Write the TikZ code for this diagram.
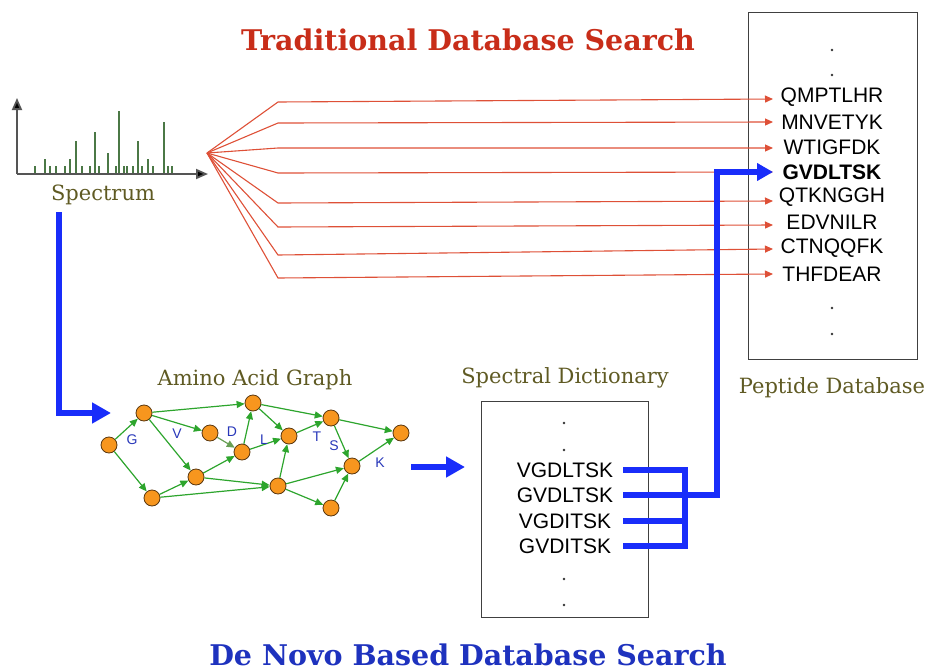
\documentclass[tikz,border=0pt]{standalone}
\usepackage{fontspec}
\setmainfont{DejaVu Serif}
\newfontfamily\sansf{Liberation Sans}
\usetikzlibrary{arrows.meta}
\definecolor{titlered}{RGB}{200,45,25}
\definecolor{linered}{RGB}{222,80,55}
\definecolor{bluearrow}{RGB}{25,45,250}
\definecolor{titleblue}{RGB}{30,50,190}
\definecolor{olive}{RGB}{95,90,35}
\definecolor{peak}{RGB}{75,120,70}
\definecolor{edgegreen}{RGB}{45,165,45}
\definecolor{nodeorange}{RGB}{247,150,30}
\definecolor{nodebrown}{RGB}{90,55,15}
\definecolor{lettblue}{RGB}{40,55,185}
\definecolor{axisgray}{RGB}{85,85,85}
\tikzset{
  title/.style={font=\fontsize{28.5}{28.5}\selectfont\bfseries, inner sep=0pt},
  olivelabel/.style={font=\fontsize{21}{21}\selectfont, text=olive, inner sep=0pt},
  pep/.style={font=\sansf\fontsize{21}{21}\selectfont, inner sep=0pt},
  boxframe/.style={draw=black!75, line width=0.9pt, inner sep=0pt},
  redarrow/.style={draw=linered, line width=1.1pt, -{Triangle[length=8pt,width=7pt]}},
  bluethick/.style={draw=bluearrow, line width=5.5pt},
  bluearr/.style={draw=bluearrow, line width=6.5pt, -{Triangle[length=19pt,width=20pt]}},
  aa/.style={circle, draw=nodebrown, line width=0.8pt, fill=nodeorange, minimum size=16pt, inner sep=0pt},
  gedge/.style={draw=edgegreen, line width=1.2pt, -{Triangle[length=8pt,width=7pt]}},
  lett/.style={font=\sansf\fontsize{14}{14}\selectfont, text=lettblue, inner sep=0pt},
  axisline/.style={draw=axisgray, line width=1.8pt, color=axisgray},
  peakline/.style={draw=peak, line width=1.1pt},
  dot/.style={fill=black!80}
}
\begin{document}
\begin{tikzpicture}[x=1pt,y=-1pt]
\useasboundingbox (0,0) rectangle (932,672);

% titles
\node[title, text=titlered] (t1) at (468,40) {Traditional Database Search};
\node[title, text=titleblue] (t2) at (468,655) {De Novo Based Database Search};

% spectrum
\coordinate (orig) at (17,174);
\coordinate (ytop) at (17,98);
\coordinate (xend) at (208,174);
\draw[axisline, -{Triangle[length=12pt,width=10pt,fill=black]}] (orig) -- (ytop);
\draw[axisline, -{Triangle[length=12pt,width=10pt,fill=black]}] (orig) -- (xend);
\foreach \px/\py in {35/166,45/159,50/166,56/166,65/166,70/159,76/141,82/166,90/166,95/132,99/166,108/153,116/166,119/111,124/166,127/166,133/166,138/141,142/166,148/159,153/166,164/122,168/166,172/166}
  \draw[peakline] (\px,173) -- (\px,\py);
\node[olivelabel] (spec) at (103,195) {Spectrum};

% peptide database
\node[boxframe, minimum width=169pt, minimum height=347pt] (pdb) at (832.5,185.5) {};
\node[olivelabel] (pdblabel) at (832,388) {Peptide Database};
\foreach \dy in {50,75,308,334} \fill[dot] (832,\dy) circle (1.3pt);
\node[pep] (p1) at (832,97) {QMPTLHR};
\node[pep] (p2) at (832,122) {MNVETYK};
\node[pep] (p3) at (832,147) {WTIGFDK};
\node[pep, font=\sansf\bfseries\fontsize{21}{21}\selectfont] (p4) at (832,172) {GVDLTSK};
\node[pep] (p5) at (832,197) {QTKNGGH};
\node[pep] (p6) at (832,222) {EDVNILR};
\node[pep] (p7) at (832,248) {CTNQQFK};
\node[pep] (p8) at (832,274) {THFDEAR};

% red fan
\coordinate (src) at (207,153);
\coordinate (tip) at (773,0);
\coordinate (kx) at (278,0);
\draw[redarrow] (src) -- (kx |- 0,102) -- (tip |- 0,99);
\draw[redarrow] (src) -- (kx |- 0,123) -- (tip |- 0,122);
\draw[redarrow] (src) -- (kx |- 0,148) -- (tip |- 0,148);
\draw[redarrow] (src) -- (kx |- 0,173) -- (tip |- 0,172);
\draw[redarrow] (src) -- (kx |- 0,203) -- (tip |- 0,201);
\draw[redarrow] (src) -- (kx |- 0,227) -- (tip |- 0,225);
\draw[redarrow] (src) -- (kx |- 0,255) -- (tip |- 0,249);
\draw[redarrow] (src) -- (kx |- 0,278) -- (tip |- 0,274);

% amino acid graph
\node[olivelabel] (aglabel) at (255,380) {Amino Acid Graph};
\node[aa] (n1) at (109,445) {};
\node[aa] (n2) at (144,413) {};
\node[aa] (n3) at (253,403) {};
\node[aa] (n4) at (210,433) {};
\node[aa] (n5) at (242,452) {};
\node[aa] (n6) at (289,436) {};
\node[aa] (n7) at (331,418) {};
\node[aa] (n8) at (401,433) {};
\node[aa] (n9) at (196,477) {};
\node[aa] (n10) at (152,498) {};
\node[aa] (n11) at (278,486) {};
\node[aa] (n12) at (352,466) {};
\node[aa] (n13) at (331,508) {};
\foreach \a/\b in {n1/n2,n1/n10,n2/n3,n2/n4,n2/n9,n5/n3,n5/n6,n3/n6,n3/n7,n6/n7,n7/n8,n7/n12,n9/n5,n9/n11,n10/n9,n10/n11,n11/n6,n11/n12,n11/n13,n13/n12,n12/n8}
  \draw[gedge] (\a) -- (\b);
\draw[gedge, draw=edgegreen!60!olive!80] (n4) -- (n5);
\node[lett] (lG) at (132,440) {G};
\node[lett] (lV) at (177,434) {V};
\node[lett] (lD) at (232,432) {D};
\node[lett] (lL) at (264,440) {L};
\node[lett] (lT) at (317,437) {T};
\node[lett] (lS) at (334,446) {S};
\node[lett] (lK) at (380,463) {K};

% spectral dictionary
\node[olivelabel] (sdlabel) at (565,378) {Spectral Dictionary};
\node[boxframe, minimum width=167pt, minimum height=216pt] (sd) at (564.5,509) {};
\foreach \dy in {423,450,579,605} \fill[dot] (564,\dy) circle (1.3pt);
\node[pep] (d1) at (565,470) {VGDLTSK};
\node[pep] (d2) at (565,495) {GVDLTSK};
\node[pep] (d3) at (565,521) {VGDITSK};
\node[pep] (d4) at (565,546) {GVDITSK};

% blue connectors
\coordinate (bx) at (623,0);
\coordinate (vx) at (685,0);
\coordinate (ux) at (717,0);
\draw[bluethick] (bx |- d1) -- (vx |- d1) -- (vx |- d4) -- (bx |- d4);
\draw[bluethick] (bx |- d2) -- (vx |- d2);
\draw[bluethick] (bx |- d3) -- (vx |- d3);
\draw[bluethick, -{Triangle[length=16pt,width=17pt]}, line join=miter] (vx |- d2) -- (ux |- d2) -- (ux |- p4) -- (tip |- p4);

\coordinate (s0) at (59,212);
\coordinate (s1) at (59,413);
\coordinate (s2) at (111,413);
\draw[bluearr, line join=miter] (s0) -- (s1) -- (s2);
\coordinate (g0) at (411,467);
\coordinate (g1) at (465,467);
\draw[bluearr] (g0) -- (g1);
\end{tikzpicture}
\end{document}
